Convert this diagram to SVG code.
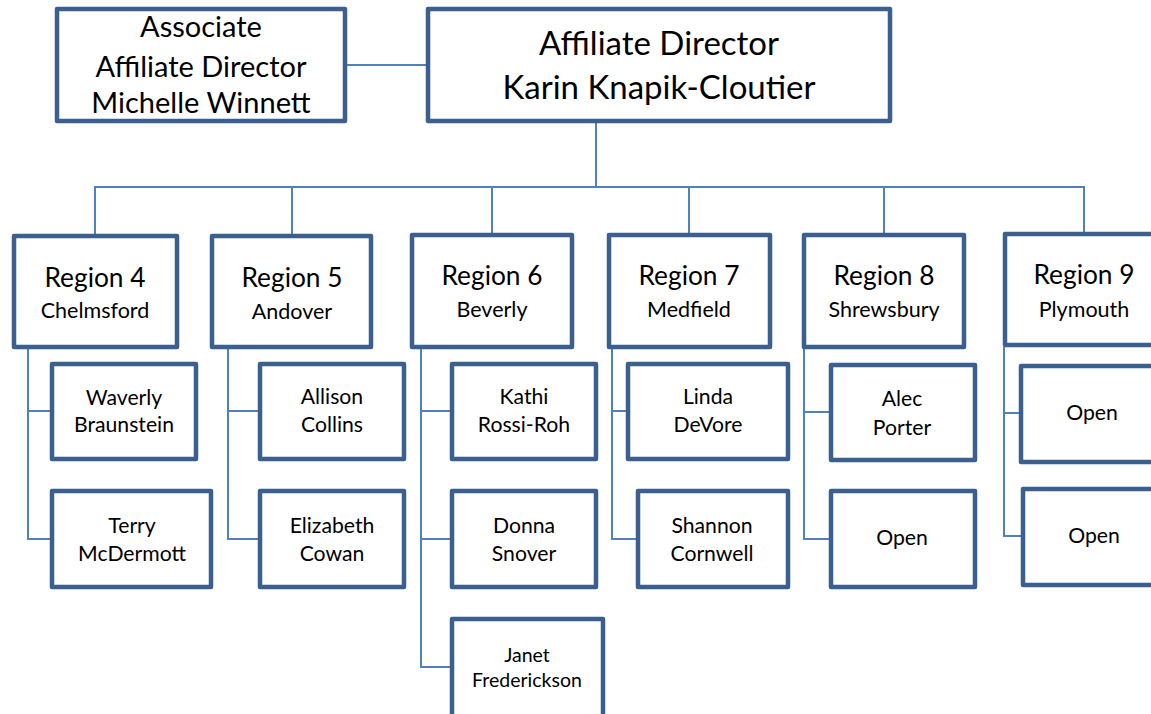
<svg xmlns="http://www.w3.org/2000/svg" width="1151" height="714" viewBox="0 0 1151 714">
<style>
.box{fill:#fff;stroke:#3b5f8e;stroke-width:4.5;stroke-linejoin:round}
.ln{fill:none;stroke:#4f81bd;stroke-width:2}
text{font-family:Lato,"Open Sans","Liberation Sans",sans-serif;fill:#000;text-anchor:middle}
.t1{font-size:29px}
.t0{font-size:33px}
.rg{font-size:26.3px}
.sb{font-size:21.5px}
.nm{font-size:21.2px}
.sm{font-size:19.5px}
</style>
<rect width="1151" height="714" fill="#fff"/>
<g id="connectors">
<path class="ln" d="M347 65H426"/>
<path class="ln" d="M596 123V186"/>
<path class="ln" d="M95 236V187H1084V234"/>
<path class="ln" d="M292 187V236M492 187V235M689 187V235M884 187V235"/>
<path class="ln" d="M52 411H28V539H52M28 349V411"/>
<path class="ln" d="M260 411H228V539H260M228 349V411"/>
<path class="ln" d="M450 411H421V667H450M421 349V411M421 539H450"/>
<path class="ln" d="M626 411H612V539H636M612 349V411"/>
<path class="ln" d="M829 412H804V539H829M804 349V412"/>
<path class="ln" d="M1019 413H1004V536H1021M1004 347V413"/>
</g>
<g id="assoc">
<rect class="box" x="57" y="9" width="288" height="112"/>
<text class="t1" x="201" y="37">Associate</text>
<text class="t1" x="201" y="77">Affiliate Director</text>
<text class="t1" x="201" y="113">Michelle Winnett</text>
</g>
<g id="director">
<rect class="box" x="428" y="9" width="462" height="112"/>
<text class="t0" x="659" y="55">Affiliate Director</text>
<text class="t0" x="659" y="99">Karin Knapik-Cloutier</text>
</g>
<g id="r4">
<rect class="box" x="14" y="236" width="163" height="111"/>
<text class="rg" x="95" y="287">Region 4</text>
<text class="sb" x="95" y="318">Chelmsford</text>
</g>
<g id="r5">
<rect class="box" x="212" y="236" width="159" height="111"/>
<text class="rg" x="292" y="287">Region 5</text>
<text class="sb" x="292" y="319">Andover</text>
</g>
<g id="r6">
<rect class="box" x="412" y="235" width="160" height="112"/>
<text class="rg" x="492" y="285">Region 6</text>
<text class="sb" x="492" y="317">Beverly</text>
</g>
<g id="r7">
<rect class="box" x="609" y="235" width="161" height="112"/>
<text class="rg" x="689" y="285">Region 7</text>
<text class="sb" x="689" y="317">Medfield</text>
</g>
<g id="r8">
<rect class="box" x="804" y="235" width="160" height="112"/>
<text class="rg" x="884" y="285">Region 8</text>
<text class="sb" x="884" y="317">Shrewsbury</text>
</g>
<g id="r9">
<rect class="box" x="1005" y="234" width="160" height="111"/>
<text class="rg" x="1084" y="284">Region 9</text>
<text class="sb" x="1084" y="317">Plymouth</text>
</g>
<g id="waverly">
<rect class="box" x="52" y="364" width="144" height="95"/>
<text class="nm" x="124" y="405">Waverly</text>
<text class="nm" x="124" y="432">Braunstein</text>
</g>
<g id="terry">
<rect class="box" x="52" y="491" width="159" height="96"/>
<text class="nm" x="132" y="533">Terry</text>
<text class="nm" x="132" y="561">McDermott</text>
</g>
<g id="allison">
<rect class="box" x="260" y="364" width="144" height="95"/>
<text class="nm" x="332" y="404">Allison</text>
<text class="nm" x="332" y="432">Collins</text>
</g>
<g id="elizabeth">
<rect class="box" x="260" y="491" width="144" height="96"/>
<text class="nm" x="332" y="533">Elizabeth</text>
<text class="nm" x="332" y="561">Cowan</text>
</g>
<g id="kathi">
<rect class="box" x="452" y="364" width="144" height="95"/>
<text class="nm" x="524" y="404">Kathi</text>
<text class="nm" x="524" y="432">Rossi-Roh</text>
</g>
<g id="donna">
<rect class="box" x="452" y="491" width="144" height="96"/>
<text class="nm" x="524" y="533">Donna</text>
<text class="nm" x="524" y="561">Snover</text>
</g>
<g id="janet">
<rect class="box" x="452" y="619" width="151" height="110"/>
<text class="sm" x="527" y="662">Janet</text>
<text class="sm" x="527" y="687">Frederickson</text>
</g>
<g id="linda">
<rect class="box" x="628" y="364" width="160" height="95"/>
<text class="nm" x="708" y="404">Linda</text>
<text class="nm" x="708" y="432">DeVore</text>
</g>
<g id="shannon">
<rect class="box" x="638" y="491" width="150" height="96"/>
<text class="nm" x="712" y="533">Shannon</text>
<text class="nm" x="712" y="561">Cornwell</text>
</g>
<g id="alec">
<rect class="box" x="831" y="365" width="144" height="95"/>
<text class="nm" x="902" y="406">Alec</text>
<text class="nm" x="902" y="435">Porter</text>
</g>
<g id="open8">
<rect class="box" x="831" y="491" width="144" height="96"/>
<text class="nm" x="902" y="545">Open</text>
</g>
<g id="open9a">
<rect class="box" x="1021" y="366" width="150" height="96"/>
<text class="nm" x="1092" y="420">Open</text>
</g>
<g id="open9b">
<rect class="box" x="1023" y="489" width="150" height="96"/>
<text class="nm" x="1094" y="543">Open</text>
</g>
</svg>
